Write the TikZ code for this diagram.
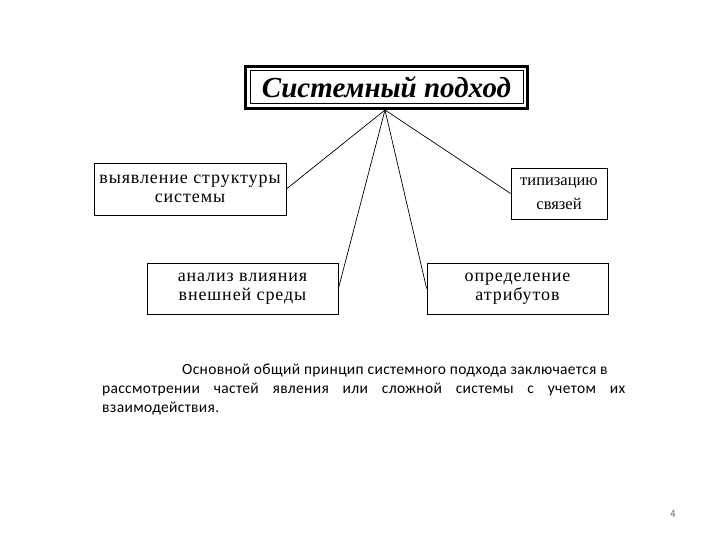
\documentclass[tikz,border=0pt]{standalone}
\usepackage{fontspec}
\setmainfont{Liberation Serif}
\newfontfamily\boxfont[LetterSpace=5]{Liberation Serif}
\newfontfamily\bodyfont[LetterSpace=2.2]{Carlito}
\begin{document}
\begin{tikzpicture}[x=1pt,y=-1pt,
  box/.style={draw,line width=0.8pt,align=center,inner sep=0pt,
    font=\boxfont\fontsize{18}{19}\selectfont},
  link/.style={line width=0.7pt},
  para/.style={anchor=base west,inner sep=0pt,font=\bodyfont\fontsize{15.5}{19}\selectfont}]
\useasboundingbox (0,0) rectangle (720,540);
\node[draw,line width=0.8pt,minimum width=273pt,minimum height=33pt,inner sep=0pt,
  font=\bfseries\itshape\fontsize{29}{30}\selectfont] (title) at (386.5,87) {Системный подход};
\draw[line width=3pt] (245.5,66.5) rectangle (527.5,108.5);
\coordinate (apex) at (385,110);
\node[box,minimum width=192pt,minimum height=52pt] (ul) at (190,189) {выявление структуры\\системы};
\node[box,minimum width=96pt,minimum height=51pt,font=\rmfamily\fontsize{16.5}{24}\selectfont] (ur) at (559,193.5) {типизацию\\связей};
\node[box,minimum width=191pt,minimum height=51pt] (ll) at (242.5,288.5) {анализ влияния\\внешней среды};
\node[box,minimum width=181pt,minimum height=51pt] (lr) at (517.5,288.5) {определение\\атрибутов};
\draw[link] (apex) -- (ul.east);
\draw[link] (apex) -- (ur.west);
\draw[link] (apex) -- (ll.east);
\draw[link] (apex) -- (lr.west);
\node[para] (p1) at (182,374) {Основной общий принцип системного подхода заключается в};
\node[para] (p2) at (102,393) {\makebox[523pt][s]{рассмотрении частей явления или сложной системы с учетом их}};
\node[para] (p3) at (102,412) {взаимодействия.};
\node[font=\sffamily\fontsize{11}{13}\selectfont,text=black!60] (num) at (673,514) {4};
\end{tikzpicture}
\end{document}
